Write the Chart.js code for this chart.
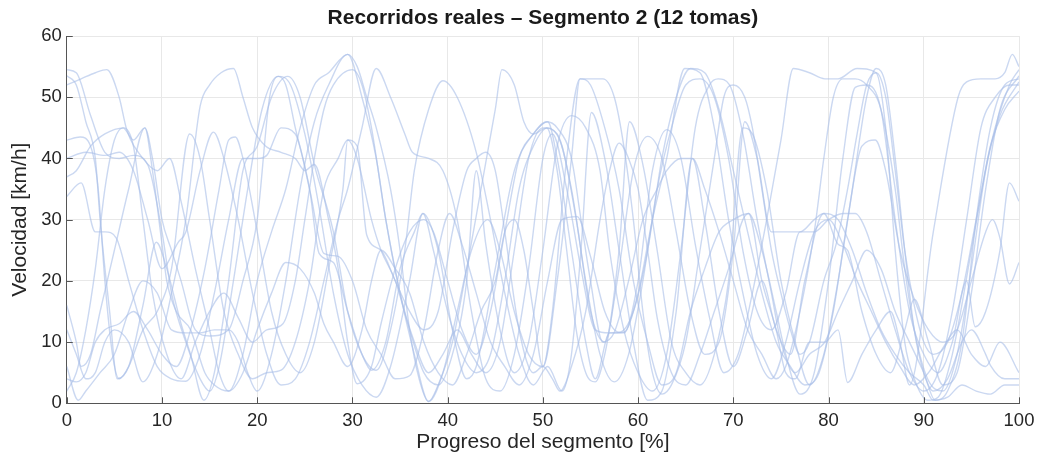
<!DOCTYPE html>
<html>
<head>
<meta charset="utf-8">
<script src="https://cdn.jsdelivr.net/npm/chart.js@4.4.1/dist/chart.umd.min.js"></script>
<style>
  html, body { margin: 0; padding: 0; background: #fff; }
  #wrap { width: 1038px; height: 457px; }
</style>
</head>
<body>
<div id="wrap"><canvas id="recorridosChart"></canvas></div>
<script>
// Datos: 12 tomas, pares [progreso %, velocidad km/h]
const titulo = 'Recorridos reales – Segmento 2 (12 tomas)';
const ticksX = [0, 10, 20, 30, 40, 50, 60, 70, 80, 90, 100];
const ticksY = [0, 10, 20, 30, 40, 50, 60];

const toma01 = [[0,54.5],[1,54],[2.5,47],[4,41],[5.5,40],[7,40.5],[8.5,39],[10,28],[11,18],[12.5,10],[14,4],[15,2],[16,6],[17.5,20],[19,35],[20.5,48],[22.2,53.4],[23.5,52],[25,44],[26.5,32],[28,18],[29.5,8],[31,3],[32.5,1],[34,6],[36,20],[37.4,31],[39,25],[40.5,12],[42,4],[43,6],[45,22],[47,38],[49,44],[50.5,46],[51.5,40],[53,25],[54.5,10],[55.5,4],[57,11.5],[58.5,11.5],[60,20],[61.5,38],[63,44.7],[64.5,40],[66,26],[67.5,14],[69,5],[70.5,8],[72,18],[73.5,30],[75,43],[76.3,54.7],[78,54],[79.6,53],[81,53],[83,54.7],[85,54],[86,45],[87,25],[88,10],[89,4],[90.4,0.5],[91.5,1],[93,8],[95,25],[97,42],[99,52],[100,54.5]];
const toma02 = [[0,53.5],[1,52],[2,46],[3,40],[3.5,30],[4.5,15],[5.3,4],[6.5,6],[8,16],[9.4,26.3],[10.5,22],[12,13],[13,8],[14.4,0.5],[15.5,5],[17,20],[18.5,38],[20,42],[21.5,50],[23.2,53.4],[24.5,50],[26,39],[28,28],[29.5,15],[31,8],[32.5,5.4],[34,12],[35.5,25],[36.5,38],[38,48],[39.5,52.7],[41,50],[43,41],[44.5,30],[46,18],[47.5,8],[49,3],[50.5,6],[52,2],[53,8],[54,25],[55.1,47.5],[56.5,40],[58,25],[59.5,10],[61,0.5],[62.5,2],[64,15],[65.7,40],[67,30],[68.5,15],[70,6],[71.5,12],[73,20],[74.5,12],[76,8],[77.5,20],[79.5,31],[81,26],[82,25],[83.5,15],[85,8],[86.5,5],[88,12],[89,17],[90.5,10],[92,3],[93.5,5],[95,18],[96.5,35],[98,48],[100,53.5]];
const toma03 = [[0,52],[1.5,53],[3,54],[4.2,54.5],[5.5,50],[6.3,44.7],[8,40],[9.5,38],[10.8,40],[12,33],[13.5,22],[15,12],[16,5],[17,2],[18.5,8],[20,20],[21.5,28],[23,35],[24.5,45],[26,52],[27.5,54],[29.5,57],[31,50],[32.5,40],[33.5,30],[35,18],[36.5,8],[38,0.3],[39.5,5],[41,15],[42.5,25],[44.2,30],[45.5,25],[47,15],[48.5,8],[50,6],[51.5,20],[53,40],[53.9,53],[55,52],[56.5,45],[58,35],[59.5,20],[61,10],[62.5,3],[64,5],[65.5,15],[67,22],[68.5,28],[70,30],[71.6,31],[73,25],[74.5,15],[75.5,8],[77,1.5],[78.5,5],[80,20],[81.5,40],[82.8,51.6],[84,52],[85.5,48],[87,30],[88.5,15],[90,8],[91.5,5],[93,10],[94.5,20],[95.4,12.5],[96.5,15],[98,25],[99,36],[100,33]];
const toma04 = [[0,43],[1.4,43.5],[2.5,42],[3.3,35],[4,20],[4.8,8],[5.5,4],[6.5,6],[8,12],[9.5,15],[11,22],[12.9,44],[14,40],[15,30],[16.5,15],[18,8],[19.5,4],[21,5],[22.5,5.4],[24,10],[25.5,20],[27,35],[28.5,40],[29.5,43],[30.5,40],[32,30],[33,25],[34.5,20],[36,12],[37.5,5],[39,3],[40.5,8],[42,20],[43,38],[44,26],[45.5,12],[47,5],[48.5,10],[50,25],[51.5,42],[53,47],[54.5,45],[56,38],[57,25],[58.5,12],[60,5],[61.5,2],[63,8],[64.5,25],[66,45],[67.5,52],[68.4,53],[69.6,52],[71,44],[72.5,30],[74,18],[75,10],[76.5,5],[78,8],[79.6,10],[81,15],[82.5,20],[84,25],[85.5,22],[87,15],[88.5,10],[90,5],[91.2,0.5],[92.5,2],[94,10],[95.5,30],[97,45],[98.5,52],[100,53]];
const toma05 = [[0,40],[2,41],[4,40.5],[5.5,41],[7,38],[8.5,30],[10,22],[11.7,26.3],[12.5,28],[14,38],[15.4,44.3],[16.5,40],[18,30],[19.5,18],[21,8],[22.5,3],[24,4],[25.5,10],[27,20],[28.5,30],[29.5,35],[31,45],[32.5,54.7],[34,50],[35.5,44],[36.3,41],[38,40],[39.5,38],[41,30],[42.5,15],[44,4],[45.5,2],[47,8],[48.5,22],[50,40],[51,44],[52.5,35],[54,22],[55.5,12],[57,11.5],[58.5,11.6],[60,18],[61.5,30],[63,40],[64.9,54.7],[66.5,54],[68,45],[69.5,30],[71,18],[72.5,8],[74,4],[75.5,10],[77,20],[78.5,28],[80,30],[81.5,26],[83,20],[84.5,15],[86,10],[87.5,6],[89,3],[90.5,5],[92,9],[93.5,12],[95,8],[96.5,6],[98,10],[100,5]];
const toma06 = [[0,37],[1,38],[2.5,42],[4,44],[6,45],[7,42],[8,30],[9,18],[10.5,8],[12,4],[13.5,10],[15,15],[16.5,18],[18,14],[19.5,10],[21,12],[22.7,13],[24,20],[25,30],[26,40],[27,48],[28,52],[30,54.5],[31,52],[32,45],[33.5,30],[35,18],[36.5,10],[38,5],[39.5,8],[41,12],[42.5,8],[44,5],[45.5,10],[47,25],[48.5,40],[50,45],[51.5,44],[53,35],[54.5,20],[56,8],[57.5,3.5],[59,8],[60.5,20],[62,35],[63.5,45],[65,52],[66.5,53],[68,50],[69.5,40],[71,25],[72.5,15],[74,12],[75.5,18],[77,28],[78.5,28],[80,30],[81.5,31],[82.8,31],[84,28],[85.5,20],[87,12],[88.5,5],[90,2],[91.5,5],[93,15],[94.5,30],[96,45],[97.5,50],[99,52],[100,52]];
const toma07 = [[0,33.8],[1.5,36],[3,28],[4,28],[5.2,27],[6.5,20],[8,12],[9.5,6],[11,4],[12.5,3.6],[14,8],[15.5,18],[17,30],[18.5,40],[20,40],[21,40.5],[22.5,45],[24,44],[25.5,35],[27,24.5],[28.5,24],[30,20],[31.5,12],[33,8],[34.5,4],[36,4.5],[37.5,12],[39,25],[40.2,31],[41.5,26],[43,18],[44.5,10],[46,6],[47.5,3],[49,8],[50.5,20],[52,30],[53.6,30.5],[55,24],[56.5,15],[58,11.6],[59.5,15],[61,25],[62.5,40],[64,50],[65.5,54.7],[67,54],[68.5,48],[70,38],[71.5,28],[73,18],[74.5,10],[76,6],[77.5,3],[79,5],[80.5,15],[82,30],[83.5,42],[84.9,43],[86,38],[87.5,25],[89,17],[90.5,12],[92,10],[93.5,12],[95,20],[96.5,28],[97.2,30],[98,27],[99,19.5],[100,23]];
const toma08 = [[0,16],[1,10],[1.5,6],[2.5,8],[3.5,15],[5,25],[6.5,35],[8.2,45],[9,40],[10,30],[11,25],[12,20],[13.5,12],[15,11],[17,12],[18.5,20],[20,30],[21.3,50],[22.2,53.4],[23,52],[24,45],[25.5,35],[26.5,24.5],[28,23],[29.5,15],[31,8],[32,5.4],[33.5,10],[35,22],[36.5,28],[37.4,31],[38.5,25],[40,15],[41.5,8],[43,5],[44.5,8],[46,20],[47.5,35],[49,42],[50.5,45],[52,42],[53.5,30],[55,15],[56.5,10],[58,25],[59.1,46],[60.5,39],[62,25],[63.5,10],[65,5],[66.5,3],[68,8],[69.5,20],[71,45],[72,44],[73.5,35],[75,20],[76.5,10],[78,3],[79.5,8],[81,20],[82.5,35],[84,50],[85,54.7],[86,52],[87,40],[88,25],[89,12],[90,5],[91,2],[92.5,4],[94,10],[95,12],[96.5,8],[97,6.2],[98.5,4],[100,4]];
const toma09 = [[0,12],[1,8],[2,4],[3,5],[4,10],[5,12],[6.5,10],[8,3.5],[9.5,8],[11,18],[12.5,30],[14,48.5],[15,52],[16.2,54],[17.5,54.7],[18.5,50],[19.5,45],[20.9,42],[22.5,41],[24,40],[25,38],[26,39],[27.5,30],[28.5,22],[29.5,10],[30.5,3.2],[32,6],[33,13],[34.5,22],[36,28],[37.5,30],[38.5,28],[40,20],[41.5,12],[43,8],[44.5,15],[46,28],[47.5,40],[49,44],[50.4,46],[51.5,45],[53,40],[54,30],[55,20],[56.3,10],[57.5,11.6],[59,20],[60.5,30],[62,35],[63,38],[64.5,40],[65.7,40],[67,35],[68.5,28],[70,20],[71.5,12],[73,8],[74.5,4],[75.5,6],[77,15],[78.5,28],[79.5,40],[80.5,50],[81.5,53],[82.8,53],[84,52],[85.5,48],[87,35],[88,22],[89,12],[90.4,4],[92,2],[93.5,8],[95,22],[96.5,38],[98,47],[100,52.5]];
const toma10 = [[0,6],[1.2,0.5],[2,2],[3.5,5],[5,8],[6.5,15],[8,20],[9.5,18],[11,12],[12.5,11.5],[14,11.5],[15.5,12],[17,12],[18,10],[19,5],[20,2],[21.5,8],[23,20],[24.5,35],[26,46],[27.5,52],[29.5,57],[30.5,55],[31.5,50],[32.5,45],[34,35],[35,25],[36,12],[37,4],[38,0.3],[39,3],[40.5,10],[42,22],[43.5,35],[45,48],[45.7,54.5],[47,52],[48,46],[49,44],[50.4,45],[51.5,38],[52.5,25],[53.5,12],[54.5,5],[55.5,3.5],[56.5,8],[58,22],[59.5,38],[61,43.6],[62.5,40],[64,28],[65.5,15],[67,8],[68.5,10],[70,25],[71.2,46],[72.5,40],[74,28],[75.5,28],[77,28],[78.5,30],[79.5,31],[81,30],[82.5,25],[84,18],[85.5,12],[87,8],[88.5,5],[90,3],[91,0.5],[92.5,1],[94,3],[95.5,2],[97,1.5],[98.5,3],[100,3]];
const toma11 = [[0,4],[1,3.5],[2,5],[3,10],[4,12],[5.5,13],[7,15],[8.5,12],[10,8],[11.5,6],[13,12],[14.5,22],[16,35],[17,43],[17.7,43.5],[18.5,40],[20,28],[21.5,15],[23,8],[24.5,5],[26,10],[27.5,22],[29,35],[29.5,43],[30.5,42],[31.5,27.5],[33,25],[34.5,20],[36,15],[37.5,12],[39,15],[40.5,28],[42,38],[43,40],[44,41],[45,38],[46,28],[47.5,12],[49,5],[50,6],[51,4],[51.8,2],[53,6],[54.5,15],[56,30],[57,38],[58,42.5],[59,40],[60,35],[61,25],[62,14],[63.5,5],[65,3],[66.5,8],[68,15],[69.5,22],[71,30],[71.6,31],[73,20],[74.5,12],[75.5,5],[76.5,4],[78,10],[79.6,10],[81,12],[82,3.4],[83.5,8],[85,12],[86.5,15],[87.5,10],[88.5,3],[91,28],[93.6,50],[94.5,52.5],[96,53],[97.5,53],[98.5,54],[99.3,57],[100,55]];
const toma12 = [[0,2],[1,5],[2,12],[3,22],[4,35],[5,43],[5.9,45],[7,43],[8.2,45],[9,38],[10,26],[10.5,20],[11.5,15],[13,12],[14.5,5],[15.5,3],[17,2],[18.5,5],[20,12],[21.5,18],[23,23],[24.5,22],[26,18],[27,13],[28,10],[29.5,6],[31,12],[32,20],[33,25],[34.5,22],[36,18],[37.5,10],[39,5],[40.5,3],[42,8],[43.5,15],[45,20],[46,28],[47,30],[48,25],[49,15],[50,6],[51,15],[52.5,40],[53.9,53],[55,53],[56.3,53],[57.5,50],[58.5,42],[59.5,30],[60.5,15],[61.5,5],[62.5,1.5],[63.5,3],[65,10],[66.5,25],[68,40],[69,50],[70,52],[71.2,50],[72,45],[73,35],[74,25],[75,18],[76,12],[77,8],[78,10],[79.5,20],[80.8,26],[82,35],[83,44],[84,52],[85,54],[86,50],[87,38],[88,25],[89,16],[90,10],[91,8],[92.5,10],[94,18],[95.5,30],[97,42],[98.5,48],[100,51]];

const tomas = [toma01, toma02, toma03, toma04, toma05, toma06, toma07, toma08, toma09, toma10, toma11, toma12];

const fuente = 'Liberation Sans, Arial, Helvetica, sans-serif';

// Título centrado sobre el área del gráfico y marcas de eje hacia dentro
const decoracion = {
    id: 'decoracion',
    afterDraw(chart) {
        const ctx = chart.ctx;
        const area = chart.chartArea;
        const sx = chart.scales.x;
        const sy = chart.scales.y;
        ctx.save();
        ctx.strokeStyle = '#555';
        ctx.lineWidth = 1;
        ctx.beginPath();
        ticksX.forEach(v => {
            const px = Math.round(sx.getPixelForValue(v)) + 0.5;
            ctx.moveTo(px, area.bottom);
            ctx.lineTo(px, area.bottom - 6);
        });
        ticksY.forEach(v => {
            const py = Math.round(sy.getPixelForValue(v)) + 0.5;
            ctx.moveTo(area.left, py);
            ctx.lineTo(area.left + 6, py);
        });
        ctx.stroke();

        ctx.fillStyle = '#1a1a1a';
        ctx.font = 'bold 21px ' + fuente;
        ctx.textAlign = 'center';
        ctx.textBaseline = 'middle';
        ctx.fillText(titulo, (area.left + area.right) / 2, 18);
        ctx.restore();
    }
};

const ctx = document.getElementById('recorridosChart');
new Chart(ctx.getContext('2d'), {
    type: 'line',
    data: {
        datasets: tomas.map((t, i) => ({
            label: 'Toma ' + (i + 1),
            data: t.map(p => ({ x: p[0], y: p[1] })),
            borderColor: 'rgba(168, 190, 232, 0.6)',
            borderWidth: 1.4,
            pointRadius: 0,
            fill: false,
            cubicInterpolationMode: 'monotone'
        }))
    },
    options: {
        responsive: true,
        maintainAspectRatio: false,
        animation: false,
        layout: { padding: { left: 8, right: 19, top: 36, bottom: 2 } },
        plugins: {
            legend: { display: false },
            tooltip: { enabled: false },
            title: { display: false }
        },
        scales: {
            x: {
                type: 'linear',
                min: 0,
                max: 100,
                afterBuildTicks: s => { s.ticks = ticksX.map(v => ({ value: v })); },
                afterFit: s => { s.paddingRight = 0; },
                ticks: {
                    color: '#262626',
                    padding: 8,
                    maxRotation: 0,
                    font: { family: fuente, size: 18.5, lineHeight: 1.0 }
                },
                grid: { color: '#e8e8e8', drawTicks: false },
                border: { display: true, color: '#555', width: 1 },
                title: {
                    display: true,
                    text: 'Progreso del segmento [%]',
                    color: '#262626',
                    padding: { top: -8, bottom: 0 },
                    font: { family: fuente, size: 21 }
                }
            },
            y: {
                min: 0,
                max: 60,
                afterBuildTicks: s => { s.ticks = ticksY.map(v => ({ value: v })); },
                ticks: {
                    color: '#262626',
                    padding: 5,
                    font: { family: fuente, size: 18.5 }
                },
                grid: { color: '#e8e8e8', drawTicks: false },
                border: { display: true, color: '#555', width: 1 },
                title: {
                    display: true,
                    text: 'Velocidad [km/h]',
                    color: '#262626',
                    padding: { top: 0, bottom: 3 },
                    font: { family: fuente, size: 21 }
                }
            }
        }
    },
    plugins: [decoracion]
});
</script>
</body>
</html>
